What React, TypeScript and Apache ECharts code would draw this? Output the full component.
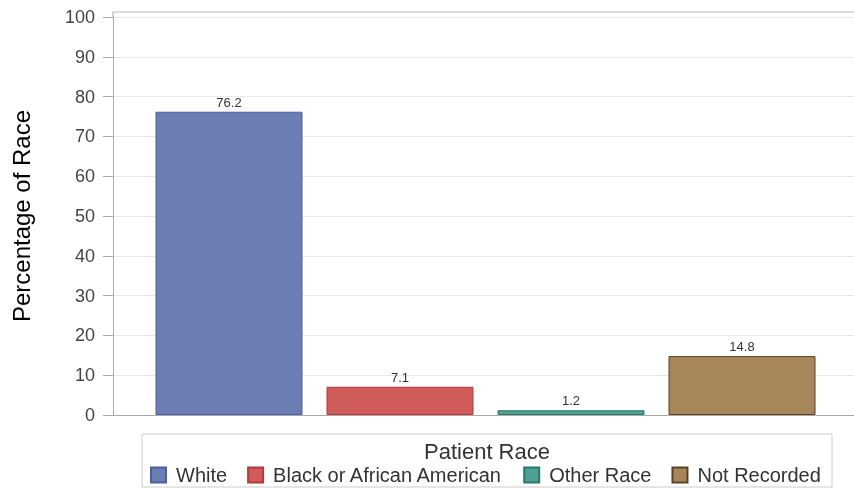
import React, { useEffect, useRef } from "react";
import * as echarts from "echarts";

const categories = ["White", "Black or African American", "Other Race", "Not Recorded"];
const values = [76.2, 7.1, 1.2, 14.8];
const fills = ["#6b7db3", "#d05b5b", "#4fa093", "#a8865b"];
const borders = ["#4c5fa0", "#b23a3a", "#2a7a6c", "#5c4020"];
const yTicks = { min: 0, max: 100, interval: 10 };
const yTitle = "Percentage of Race";
const legendTitle = "Patient Race";

const FONT = "'Liberation Sans', Arial, sans-serif";

export default function App() {
  const ref = useRef<HTMLDivElement>(null);
  useEffect(() => {
    document.body.style.margin = "0";
    const chart = echarts.init(ref.current!, null, { renderer: "svg" });
    const series = categories.map((name, i) => ({
      name,
      type: "bar",
      xAxisIndex: 1,
      yAxisIndex: 1,
      stack: "race",
      barWidth: 147,
      data: categories.map((_, j) => (j === i ? values[i] : null)),
      itemStyle: { color: fills[i], borderColor: borders[i], borderWidth: 1 },
      label: {
        show: true,
        position: "top",
        distance: 3,
        formatter: (p: any) => Number(p.value).toFixed(1),
        fontFamily: FONT,
        fontSize: 13,
        color: "#333",
      },
    }));
    chart.setOption({
      animation: false,
      textStyle: { fontFamily: FONT },
      grid: [
        { left: 113, right: 0, top: 17, bottom: 73 },
        { left: 143.5, width: 684, top: 17, bottom: 73 },
      ],
      xAxis: [
        {
          type: "value",
          gridIndex: 0,
          min: 0,
          max: 1,
          axisLine: { show: true, lineStyle: { color: "#aaa", width: 1 } },
          axisTick: { show: false },
          axisLabel: { show: false },
          splitLine: { show: false },
        },
        {
          type: "category",
          gridIndex: 1,
          data: categories,
          show: false,
        },
      ],
      yAxis: [
        {
          type: "value",
          gridIndex: 0,
          min: yTicks.min,
          max: yTicks.max,
          interval: yTicks.interval,
          name: yTitle,
          nameLocation: "middle",
          nameGap: 80,
          nameTextStyle: { fontFamily: FONT, fontSize: 24, color: "#000" },
          axisLine: { show: true, lineStyle: { color: "#aaa", width: 1 } },
          axisTick: { show: true, length: 10, lineStyle: { color: "#aaa" } },
          axisLabel: { fontFamily: FONT, fontSize: 18, color: "#444", margin: 18 },
          splitLine: { show: true, lineStyle: { color: "#e8e8e8", width: 1 } },
        },
        {
          type: "value",
          gridIndex: 1,
          min: yTicks.min,
          max: yTicks.max,
          show: false,
        },
      ],
      legend: {
        left: 150,
        top: 465,
        padding: 0,
        icon: "rect",
        itemWidth: 15,
        itemHeight: 15,
        itemGap: 20,
        data: categories,
        textStyle: { fontFamily: FONT, fontSize: 20, color: "#333", padding: [0, 0, 0, 5] },
      },
      graphic: [
        {
          type: "line",
          shape: { x1: 113, y1: 12, x2: 854, y2: 12 },
          style: { stroke: "#bbb", lineWidth: 1 },
        },
        {
          type: "line",
          shape: { x1: 113, y1: 12, x2: 113, y2: 17 },
          style: { stroke: "#aaa", lineWidth: 1 },
        },
        {
          type: "rect",
          shape: { x: 142, y: 434, width: 690, height: 53 },
          style: { fill: "none", stroke: "#ccc", lineWidth: 1 },
        },
        {
          type: "text",
          x: 487,
          y: 451,
          style: {
            text: legendTitle,
            fontFamily: FONT,
            fontSize: 22,
            fill: "#333",
            align: "center",
            verticalAlign: "middle",
          },
        },
      ],
      series,
    });
    return () => chart.dispose();
  }, []);
  return <div ref={ref} style={{ position: "fixed", left: 0, top: 0, width: 854, height: 488 }} />;
}
